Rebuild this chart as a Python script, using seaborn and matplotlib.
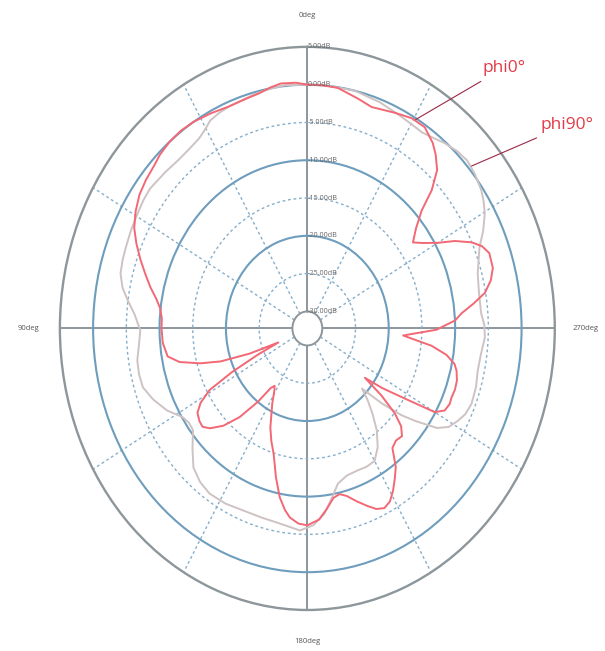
import numpy as np
import pandas as pd
import seaborn as sns
import matplotlib.pyplot as plt

# angles in degrees (0 at top, counter-clockwise), gain in dB
phi0_deg = [0, 3, 7, 10, 13, 17, 22, 27, 32, 36, 40, 44, 47, 51, 55, 59, 63, 66.5, 70, 73.5,
            77, 80, 83, 86.5, 90, 95, 100, 103, 106, 108.5, 111, 113, 115, 117, 119, 121.5,
            124, 127, 129.5, 132, 135.5, 139, 142.5, 145, 147, 149, 152, 157, 160, 163, 166.5,
            169.5, 172, 174, 177, 180, 184, 187, 190, 192.5, 195, 198, 201, 203.5, 206, 208.5,
            211, 213.5, 216, 219, 222, 225, 227.5, 229.5, 231.5, 233, 235, 237.7, 240, 242.3,
            245, 247, 250, 253, 256, 258, 260.5, 263, 266.3, 269.5, 272.7, 275, 277.5, 280,
            283, 286, 290, 292.5, 294.7, 297.5, 300, 303, 305.6, 309, 312.2, 314.3, 317, 320,
            322.4, 326.4, 330.5, 335, 341.7, 346, 351.8, 356]
phi0_db = [0.0, 0.3, 0.4, 0.1, -0.3, -0.5, -0.6, -0.3, 0.0, 0.1, 0.0, -0.3, -0.7, -1.0, -1.4,
           -2.1, -3.0, -4.2, -5.5, -6.8, -8.0, -9.1, -9.9, -10.3, -10.3, -10.4, -10.9, -12.5,
           -15.5, -18.5, -23.0, -27.5, -24.0, -19.5, -15.4, -13.4, -12.3, -11.9, -11.8, -12.5,
           -14.2, -16.7, -20.0, -22.6, -23.2, -22.6, -21.0, -18.0, -16.4, -14.9, -12.0, -9.5,
           -8.0, -7.1, -6.4, -6.2, -6.9, -8.2, -9.5, -9.8, -9.3, -8.2, -7.1, -6.2, -5.8, -6.2,
           -7.2, -8.4, -9.6, -11.9, -12.3, -12.1, -13.1, -14.9, -18.0, -21.4, -18.5, -14.9,
           -10.1, -8.9, -8.6, -8.7, -8.6, -8.7, -9.1, -9.6, -11.0, -13.4, -17.8, -12.8, -10.0,
           -8.9, -7.0, -5.1, -3.9, -3.2, -3.1, -3.8, -5.0, -7.2, -9.6, -11.5, -12.7, -11.2,
           -9.0, -6.1, -3.6, -2.2, -1.3, -0.3, -0.3, -0.8, -1.4, -0.9, -0.1, 0.0]

phi90_deg = [0, 6, 11, 15, 22, 25, 28, 30.5, 33, 37, 41, 46, 52, 55.5, 59, 64, 68.6, 72, 75.5,
             79, 82, 86, 90.6, 95, 99.4, 103.5, 107.5, 112, 117.2, 122, 125, 128, 132.5, 137,
             141.5, 146, 152, 158, 164.5, 171, 177.6, 182, 186, 189.5, 192.6, 197, 202, 206,
             210, 214, 217.8, 221, 223.7, 226, 228.5, 231, 233, 236, 238.5, 241.7, 244.5, 248,
             253, 257.8, 262.5, 267.4, 271, 274.3, 280, 285.8, 289, 292.5, 296, 299.7, 302.5,
             305, 309, 312.7, 316, 320, 323, 326.4, 330, 334.4, 340, 347.2, 354]
phi90_db = [0.0, 0.1, -0.1, -0.3, -0.6, -0.8, -1.1, -1.8, -2.3, -2.6, -2.7, -2.5, -2.2, -2.3,
            -2.5, -2.7, -2.9, -3.0, -3.2, -3.9, -4.9, -6.2, -7.1, -6.8, -6.3, -6.2, -6.3, -7.2,
            -8.5, -10.1, -10.5, -10.4, -8.8, -7.1, -6.3, -5.9, -6.0, -6.3, -6.3, -6.1, -5.5,
            -6.2, -7.6, -9.6, -11.2, -11.9, -12.0, -11.9, -12.0, -13.3, -15.2, -17.3, -19.1,
            -20.8, -17.3, -14.0, -11.9, -8.7, -7.3, -6.5, -5.9, -5.6, -5.7, -6.0, -5.9, -5.5,
            -5.6, -6.0, -6.0, -5.6, -5.0, -4.2, -2.8, -1.5, -0.8, -0.3, 0.2, 0.5, 0.3, -0.2,
            -0.7, -1.1, -1.0, -0.8, -0.4, 0.0, 0.0]

r_ticks = [5, 0, -5, -10, -15, -20, -25, -30]
theta_ticks = [0, 30, 60, 90, 120, 150, 180, 210, 240, 270, 300, 330]
theta_labels = ['0deg', '', '', '90deg', '', '', '180deg', '', '', '270deg', '', '']

sns.set_style('white')
plt.rcParams['font.family'] = ['Open Sans', 'DejaVu Sans']

fig = plt.figure(figsize=(6.05, 6.51), dpi=100)
ax = fig.add_axes([0.099, 0.063, 0.818, 0.865], projection='polar')

df90 = pd.DataFrame({'theta': np.deg2rad(phi90_deg + [360]), 'db': phi90_db + [phi90_db[0]]})
df0 = pd.DataFrame({'theta': np.deg2rad(phi0_deg + [360]), 'db': phi0_db + [phi0_db[0]]})
sns.lineplot(data=df90, x='theta', y='db', ax=ax, sort=False, estimator=None,
             color='#cec2c3', lw=1.4, zorder=3)
sns.lineplot(data=df0, x='theta', y='db', ax=ax, sort=False, estimator=None,
             color='#f26874', lw=1.4, zorder=4)
ax.set_xlabel('')
ax.set_ylabel('')

ax.set_theta_zero_location('N')
ax.set_theta_direction(1)
ax.set_ylim(-30, 5)
ax.set_rorigin(-32.25)
ax.set_aspect('auto')

# spokes
ax.set_xticks(np.deg2rad(theta_ticks))
ax.set_xticklabels(theta_labels)
ax.tick_params(axis='x', pad=12, labelsize=5.5, labelcolor='#555555')
ax.grid(True)
for i, gl in enumerate(ax.xaxis.get_gridlines()):
    if i % 3 == 0:
        gl.set_color('#8d969b')
        gl.set_linestyle('-')
        gl.set_linewidth(1.4)
    else:
        gl.set_color('#86aecb')
        gl.set_linestyle((0, (2, 2)))
        gl.set_linewidth(1.0)

# circles
ax.set_yticks([-25, -20, -15, -10, -5, 0])
ax.set_yticklabels([])
for v, gl in zip([-25, -20, -15, -10, -5, 0], ax.yaxis.get_gridlines()):
    if v % 10 == 0:
        gl.set_color('#6e9dbd')
        gl.set_linestyle('-')
        gl.set_linewidth(1.5)
    else:
        gl.set_color('#86aecb')
        gl.set_linestyle((0, (2, 2)))
        gl.set_linewidth(1.0)

ax.spines['polar'].set_color('#8d969b')
ax.spines['polar'].set_linewidth(1.7)
ax.spines['inner'].set_color('#8d969b')
ax.spines['inner'].set_linewidth(1.4)

for v in r_ticks:
    ax.text(0, v, f'{v:.2f}dB', ha='left', va='center', fontsize=5.2,
            color='#666666', zorder=5)

ax.annotate('phi0°', xy=(np.deg2rad(329.5), -0.2), xytext=(0.797, 0.8955),
            textcoords='figure fraction', color='#e03c48', fontsize=12.5,
            ha='left', va='center',
            arrowprops=dict(arrowstyle='-', color='#9c2845', lw=0.8, shrinkA=3, shrinkB=0))
ax.annotate('phi90°', xy=(np.deg2rad(311), 0.5), xytext=(0.8926, 0.808),
            textcoords='figure fraction', color='#e03c48', fontsize=12.5,
            ha='left', va='center', annotation_clip=False,
            arrowprops=dict(arrowstyle='-', color='#9c2845', lw=0.8, shrinkA=3, shrinkB=0))

fig.savefig('out.png', dpi=100)
